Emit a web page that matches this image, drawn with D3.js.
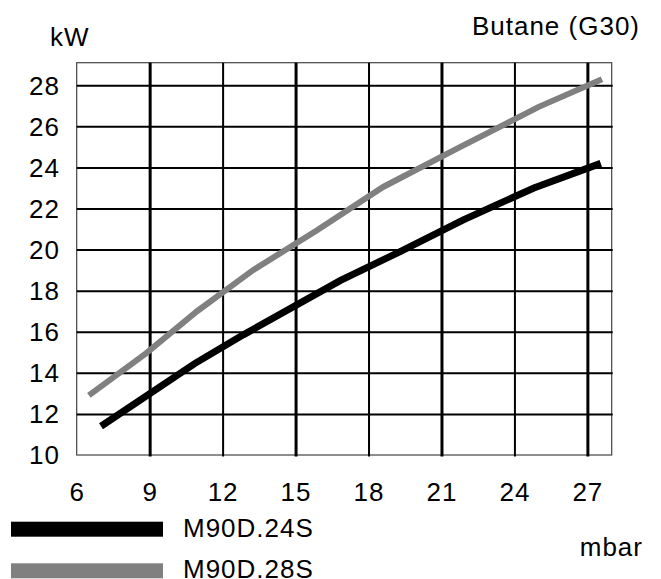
<!DOCTYPE html>
<html>
<head>
<meta charset="utf-8">
<script src="https://cdn.jsdelivr.net/npm/d3@7"></script>
<style>
body { margin: 0; background: #fff; }
svg { display: block; font-family: "Liberation Sans", Arial, sans-serif; letter-spacing: 1px; }
</style>
</head>
<body>
<svg width="661" height="579"></svg>
<script>
var width = 661;
var height = 579;
var plotLeft = 76.7, plotRight = 611.7, plotTop = 62.7, plotBottom = 455;

var xTicks = [6, 9, 12, 15, 18, 21, 24, 27];
var yTicks = [10, 12, 14, 16, 18, 20, 22, 24, 26, 28];

// M90D.24S
var p24 = [7, 10.85, 12.85, 16.85, 19.3, 21.9, 24.8, 27.55];
var kw24 = [11.4, 14.45, 15.85, 18.5, 19.9, 21.45, 23.0, 24.2];
// M90D.28S
var p28 = [6.5, 8.85, 10.95, 13.25, 15.9, 18.6, 21.7, 25, 27.6];
var kw28 = [12.9, 14.95, 17.0, 19.0, 20.95, 23.05, 24.95, 26.95, 28.3];

var seriesNames = ["M90D.24S", "M90D.28S"];
var seriesColors = ["#000000", "#808080"];

var xScale = d3.scaleLinear().domain([6, 28]).range([plotLeft, plotRight]);
var yScale = d3.scaleLinear().domain([10, 29.1]).range([plotBottom, plotTop]);

var svg = d3.select("svg");

// frame
svg.append("rect")
    .attr("x", plotLeft).attr("y", plotTop)
    .attr("width", plotRight - plotLeft).attr("height", plotBottom - plotTop)
    .attr("fill", "none").attr("stroke", "#444").attr("stroke-width", 1.2);

// vertical grid
var xGrid = svg.append("g")
    .attr("transform", `translate(0,${plotBottom})`)
    .call(d3.axisBottom(xScale).tickValues(xTicks.slice(1)).tickSize(-(plotBottom - plotTop)).tickFormat(""));
xGrid.select(".domain").remove();
xGrid.selectAll(".tick line")
    .attr("stroke", "#000")
    .attr("stroke-width", (d, i) => i % 2 === 0 ? 3 : 2)
    .attr("y2", -(plotBottom - plotTop))
    .attr("y1", 1.5);

// horizontal grid
var yGrid = svg.append("g")
    .attr("transform", `translate(${plotLeft},0)`)
    .call(d3.axisLeft(yScale).tickValues(yTicks.slice(1)).tickSize(-(plotRight - plotLeft + 1)).tickFormat(""));
yGrid.select(".domain").remove();
yGrid.selectAll(".tick line").attr("stroke", "#000").attr("stroke-width", 2);

// tick labels
svg.append("g").selectAll("text")
    .data(yTicks).enter().append("text")
    .attr("x", 60)
    .attr("y", d => yScale(d))
    .attr("dy", "0.36em")
    .attr("text-anchor", "end")
    .attr("font-size", 26)
    .text(d => d);

svg.append("g").selectAll("text")
    .data(xTicks).enter().append("text")
    .attr("x", d => xScale(d) + 0.5)
    .attr("y", 501)
    .attr("text-anchor", "middle")
    .attr("font-size", 26)
    .text(d => d);

// curves
var line = d3.line().x(d => xScale(d[0])).y(d => yScale(d[1]));
var series = [d3.zip(p24, kw24), d3.zip(p28, kw28)];
var widths = [7, 6];
series.forEach((s, i) => {
    svg.append("path")
        .datum(s)
        .attr("d", line)
        .attr("fill", "none")
        .attr("stroke", seriesColors[i])
        .attr("stroke-width", widths[i])
        .attr("stroke-linecap", "butt");
});

// titles
svg.append("text").attr("x", 50).attr("y", 46).attr("font-size", 26).text("kW");
svg.append("text").attr("x", 640).attr("y", 35).attr("text-anchor", "end").attr("font-size", 26).text("Butane (G30)");
svg.append("text").attr("x", 643).attr("y", 556).attr("text-anchor", "end").attr("font-size", 26).text("mbar");

// legend
var legendY = [521.7, 563.3];
seriesNames.forEach((name, i) => {
    svg.append("rect")
        .attr("x", 11).attr("y", legendY[i])
        .attr("width", 152).attr("height", 15)
        .attr("fill", seriesColors[i]);
    svg.append("text")
        .attr("x", 183).attr("y", legendY[i] + 15)
        .attr("font-size", 26)
        .text(name);
});
</script>
</body>
</html>
